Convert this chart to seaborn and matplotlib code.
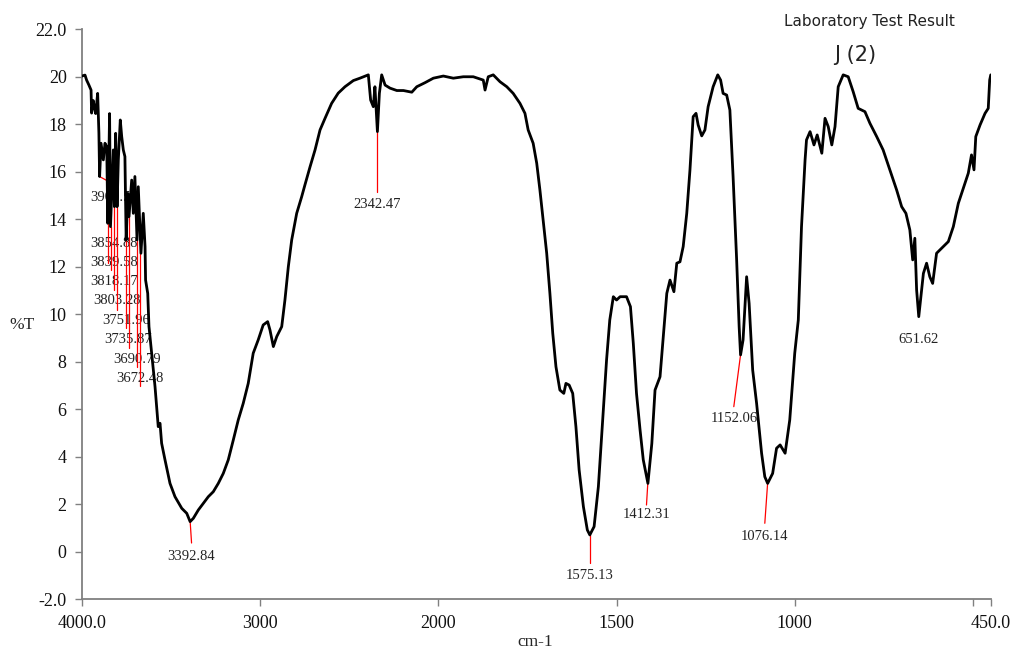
import numpy as np
import pandas as pd
import seaborn as sns
import matplotlib
matplotlib.use("Agg")
import matplotlib.pyplot as plt

# spectrum (cm-1, %T)
wavenumber = [4000, 3983, 3974, 3961, 3949, 3946, 3937, 3931, 3923, 3912, 3905, 3901, 3893, 3880, 3871, 3861,
              3855, 3845, 3840, 3824, 3818, 3811, 3803, 3796, 3785, 3777, 3768, 3759, 3752, 3743, 3736, 3721,
              3712, 3703, 3691, 3684, 3672, 3669, 3656, 3646, 3643, 3631, 3624, 3609, 3590, 3581, 3572, 3562,
              3553, 3534, 3506, 3478, 3440, 3412, 3393, 3375, 3347, 3319, 3291, 3263, 3235, 3207, 3179, 3151,
              3123, 3095, 3067, 3039, 3011, 2983, 2958, 2945, 2926, 2907, 2879, 2861, 2842, 2823, 2795, 2767,
              2749, 2720, 2692, 2664, 2636, 2599, 2562, 2524, 2477, 2440, 2393, 2380, 2365, 2356, 2342, 2331,
              2318, 2299, 2271, 2233, 2196, 2149, 2121, 2075, 2028, 1986, 1958, 1930, 1902, 1874, 1869, 1860,
              1846, 1827, 1808, 1790, 1771, 1757, 1748, 1734, 1724, 1715, 1706, 1696, 1687, 1679, 1670, 1659,
              1648, 1642, 1633, 1623, 1614, 1605, 1593, 1582, 1575, 1563, 1551, 1539, 1528, 1519, 1509, 1500,
              1490, 1472, 1461, 1453, 1444, 1434, 1425, 1412, 1401, 1392, 1378, 1369, 1359, 1350, 1339, 1331,
              1322, 1313, 1303, 1294, 1285, 1277, 1271, 1261, 1252, 1243, 1229, 1216, 1208, 1201, 1191, 1182,
              1173, 1163, 1156, 1152, 1145, 1135, 1128, 1118, 1107, 1093, 1084, 1076, 1062, 1051, 1041, 1027,
              1014, 1000, 990, 981, 971, 967, 957, 946, 937, 924, 915, 906, 896, 887, 878, 864, 850, 836, 822,
              803, 789, 770, 752, 733, 714, 700, 688, 677, 669, 663, 658, 652, 639, 630, 621, 613, 602, 588,
              569, 555, 541, 527, 513, 504, 497, 492, 480, 466, 457, 453, 450]
transmittance = [20.03, 20.07, 19.86, 19.65, 19.44, 18.47, 19.0, 18.74, 18.45, 19.3, 17.63, 15.8, 17.2, 16.5, 17.2, 17.06,
                 13.83, 18.45, 13.69, 16.92, 14.53, 17.62, 14.53, 16.5, 18.18, 17.48, 16.92, 16.64, 13.13, 15.09, 14.11, 15.65,
                 14.25, 15.8, 13.13, 15.37, 13.06, 12.57, 14.25, 12.85, 11.44, 10.88, 9.48, 8.36, 6.95, 6.11, 5.27, 5.41,
                 4.57, 3.87, 2.88, 2.32, 1.83, 1.62, 1.27, 1.41, 1.76, 2.04, 2.32, 2.53, 2.88, 3.30, 3.87, 4.7,
                 5.55, 6.25, 7.09, 8.36, 8.92, 9.55, 9.69, 9.34, 8.64, 9.06, 9.48, 10.6, 12.0, 13.13, 14.25, 14.95,
                 15.44, 16.21, 16.92, 17.76, 18.25, 18.88, 19.31, 19.58, 19.84, 19.94, 20.08, 19.02, 18.74, 19.58, 17.69, 19.3,
                 20.08, 19.65, 19.52, 19.42, 19.42, 19.35, 19.58, 19.75, 19.94, 20.03, 19.94, 20.0, 20.0, 19.86, 19.44, 20.0,
                 20.08, 19.79, 19.58, 19.3, 18.88, 18.46, 17.76, 17.2, 16.36, 15.23, 13.97, 12.57, 10.88, 9.2, 7.79, 6.81,
                 6.67, 7.09, 7.02, 6.67, 5.27, 3.45, 1.9, 0.92, 0.71, 1.06, 2.74, 5.55, 8.08, 9.76, 10.74, 10.6,
                 10.74, 10.74, 10.32, 8.78, 6.67, 5.13, 3.87, 2.88, 4.56, 6.81, 7.37, 9.06, 10.88, 11.44, 10.95, 12.15,
                 12.21, 12.85, 14.25, 16.08, 18.32, 18.46, 17.97, 17.51, 17.76, 18.74, 19.58, 20.08, 19.86, 19.3, 19.23, 18.6,
                 15.8, 12.29, 9.48, 8.29, 8.92, 11.58, 10.46, 7.65, 6.25, 4.15, 3.16, 2.88, 3.3, 4.36, 4.5, 4.15,
                 5.55, 8.36, 9.76, 13.69, 16.5, 17.34, 17.69, 17.13, 17.55, 16.78, 18.25, 17.9, 17.13, 17.9, 19.58, 20.08, 20.0, 19.37, 18.67,
                 18.53, 18.04, 17.48, 16.92, 16.08, 15.23, 14.53, 14.25, 13.55, 12.29, 13.2, 11.02, 9.9, 11.72, 12.15, 11.58, 11.3, 12.57, 12.78,
                 13.06, 13.69, 14.67, 15.3, 15.94, 16.71, 16.08, 17.48, 17.97, 18.46, 18.67, 19.86, 20.08]

# labelled peaks below the curve
peak_text = ["3392.84", "2342.47", "1575.13", "1412.31", "1152.06", "1076.14", "651.62"]
peak_wn = [3392.84, 2342.47, 1575.13, 1412.31, 1152.06, 1076.14, 651.62]
peak_T = [1.27, 17.69, 0.71, 2.88, 8.29, 2.88, 9.9]
label_wn = [3385, 2342.47, 1575.13, 1416, 1171, 1084, 652]
line_end_T = [0.37, 15.16, -0.46, 1.97, 6.11, 1.2, np.nan]
label_T = [-0.18, 14.64, -1.0, 1.55, 5.62, 0.64, 8.92]

# crowded labels in the 3900-3650 region (text left edge given)
cl_text = ["3901.55", "3854.88", "3839.58", "3818.17", "3803.28", "3751.96", "3735.87", "3690.79", "3672.48"]
cl_wn = [3901.55, 3854.88, 3839.58, 3818.17, 3803.28, 3751.96, 3735.87, 3690.79, 3672.48]
cl_T = [15.8, 13.83, 13.69, 14.53, 14.53, 13.13, 14.11, 13.13, 13.06]
cl_end_wn = [3826, 3854.88, 3839.58, 3818.17, 3803.28, 3751.96, 3735.87, 3690.79, 3672.48]
cl_end_T = [15.49, 12.16, 11.87, 11.02, 10.18, 9.42, 8.58, 7.78, 6.98]
cl_label_wn = [3955, 3955, 3955, 3955, 3937, 3889, 3875, 3824, 3809]
cl_label_T = [14.91, 12.99, 12.17, 11.37, 10.56, 9.73, 8.92, 8.11, 7.31]

xticks = [4000, 3000, 2000, 1500, 1000, 500, 450]
xtick_labels = ["4000.0", "3000", "2000", "1500", "1000", "", "450.0"]
yticks = list(range(-2, 23, 2))
ytick_labels = ["-2.0"] + [str(v) for v in yticks[1:-1]] + ["22.0"]

df = pd.DataFrame({"cm-1": wavenumber, "%T": transmittance})

sns.set_style("white")
plt.rcParams["font.family"] = ["Liberation Serif", "DejaVu Serif"]

fig = plt.figure(figsize=(10.12, 6.5), dpi=100)
ax = fig.add_axes([0.081, 0.078, 0.898, 0.877])

# FTIR style axis: scale doubles below 2000 cm-1
def fwd(w):
    w = np.asarray(w, dtype=float)
    return np.where(w >= 2000, w, 2 * w - 2000)

def inv(u):
    u = np.asarray(u, dtype=float)
    return np.where(u >= 2000, u, (u + 2000) / 2)

ax.set_xscale("function", functions=(fwd, inv))

sns.lineplot(data=df, x="cm-1", y="%T", sort=False, estimator=None, color="black",
             linewidth=2.0, ax=ax, zorder=3)

for i in range(len(peak_text)):
    if not np.isnan(line_end_T[i]):
        ax.plot([peak_wn[i], label_wn[i]], [peak_T[i], line_end_T[i]], color="red", lw=0.9, zorder=2)
    ax.text(label_wn[i], label_T[i], peak_text[i], ha="center", va="center", fontsize=10.5,
            color="#222222", zorder=1)

for i in range(len(cl_text)):
    ax.plot([cl_wn[i], cl_end_wn[i]], [cl_T[i], cl_end_T[i]], color="red", lw=0.9, zorder=2)
    ax.text(cl_label_wn[i], cl_label_T[i], cl_text[i], ha="left", va="center", fontsize=10.5,
            color="#222222", zorder=1)

ax.set_xlim(4000, 450)
ax.set_ylim(-2, 22)
ax.set_xticks(xticks)
ax.set_xticklabels(xtick_labels)
ax.set_yticks(yticks)
ax.set_yticklabels(ytick_labels)
ax.set_xlabel("")
ax.set_ylabel("")

for s in ["top", "right"]:
    ax.spines[s].set_visible(False)
for s in ["left", "bottom"]:
    ax.spines[s].set_color("#808080")
    ax.spines[s].set_linewidth(1.3)
ax.tick_params(axis="both", which="major", direction="out", length=5, width=1, color="#808080",
               labelsize=13, labelcolor="#111111", pad=6)
ax.tick_params(axis="x", bottom=True)
ax.tick_params(axis="y", left=True)

fig.text(0.0217, 0.5, "%T", ha="center", va="center", fontsize=12.5)
fig.text(0.529, 0.012, "cm-1", ha="center", va="center", fontsize=12.5)
fig.text(0.8595, 0.9666, "Laboratory Test Result", ha="center", va="center", fontsize=11,
         family="DejaVu Sans", color="#222222")
fig.text(0.8454, 0.9154, "J (2)", ha="center", va="center", fontsize=15,
         family="DejaVu Sans", color="#222222")

fig.savefig("out.png", dpi=100)
